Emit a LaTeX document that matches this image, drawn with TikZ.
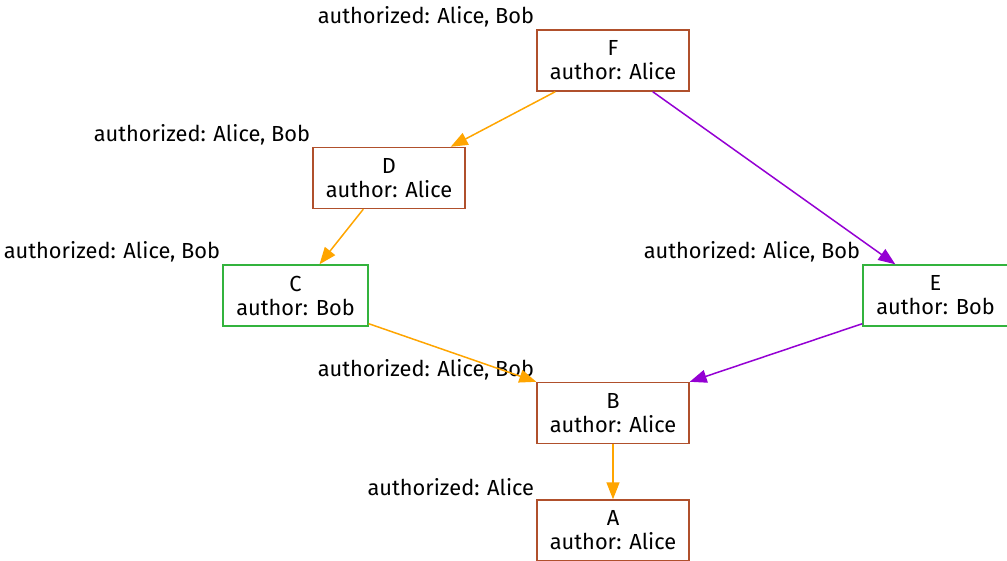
\documentclass[tikz,border=0pt]{standalone}
\usepackage{fontspec}
\setmainfont{Fira Sans}
\usetikzlibrary{arrows.meta,positioning}
\definecolor{Sienna}{HTML}{B0502C}
\definecolor{Leaf}{HTML}{33B33D}
\definecolor{Amber}{HTML}{FFA500}
\definecolor{Violet}{HTML}{9400D3}

\begin{document}
\begin{tikzpicture}[x=1pt,y=-1pt,font=\fontsize{21.8}{24}\selectfont,>={Triangle[length=17pt,width=13pt]},
    commit/.style={draw=Sienna,line width=1.4pt,align=center,minimum width=152pt,minimum height=61pt,inner sep=0pt},
    bobcommit/.style={commit,draw=Leaf,minimum width=145pt},
    xlbl/.style={inner sep=0pt,yshift=12pt},
    edge/.style={line width=1.5pt,->}]
        \useasboundingbox (0,0) rectangle (1007,561);
        \node[commit] (F) at (613,60.5) {F\\author: Alice};
        \node[commit] (D) at (389,178) {D\\author: Alice};
        \node[bobcommit] (C) at (295.5,295.5) {C\\author: Bob};
        \node[bobcommit] (E) at (935.5,295.5) {E\\author: Bob};
        \node[commit] (B) at (613,413) {B\\author: Alice};
        \node[commit] (A) at (613,530.5) {A\\author: Alice};
        \node[xlbl,left=2pt of F.north west] (lF) {authorized: Alice, Bob};
        \node[xlbl,left=2pt of D.north west] (lD) {authorized: Alice, Bob};
        \node[xlbl,left=2pt of C.north west] (lC) {authorized: Alice, Bob};
        \node[xlbl,left=2pt of E.north west] (lE) {authorized: Alice, Bob};
        \node[xlbl,left=2pt of B.north west] (lB) {authorized: Alice, Bob};
        \node[xlbl,left=2pt of A.north west] (lA) {authorized: Alice};
        \draw[edge,Amber] ([xshift=19pt]F.south west)--([xshift=-15pt]D.north east);
        \draw[edge,Amber] ([xshift=51pt]D.south west)--([xshift=24pt]C.north);
        \draw[edge,Amber] ([yshift=3pt]C.south east)--(B.north west);
        \draw[edge,Violet] ([xshift=-37pt]F.south east)--([xshift=33pt]E.north west);
        \draw[edge,Violet] ([yshift=3pt]E.south west)--(B.north east);
        \draw[edge,Amber] (B)--(A);
      \end{tikzpicture}
\end{document}
